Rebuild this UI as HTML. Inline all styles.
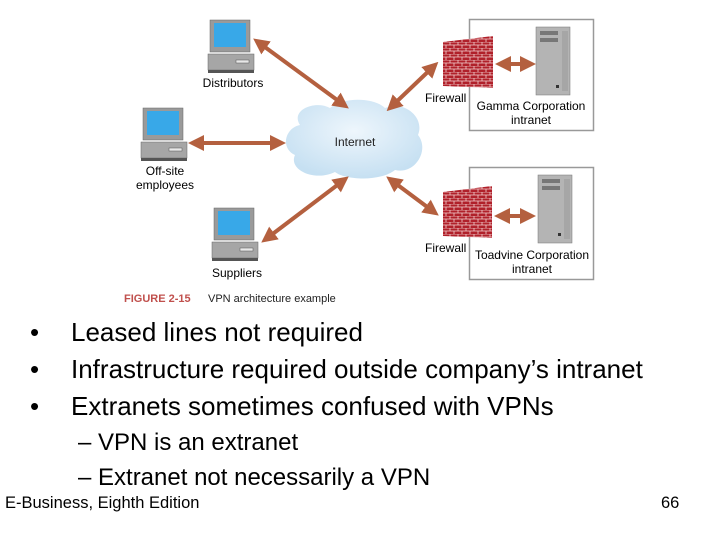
<!DOCTYPE html>
<html><head><style>
body{margin:0;width:720px;height:540px;background:#fff;position:relative;overflow:hidden;font-family:"Liberation Sans",sans-serif}
.t{position:absolute;white-space:nowrap;color:#000}
</style></head><body>
<svg width="720" height="310" style="position:absolute;left:0;top:0" font-family="Liberation Sans, sans-serif">
<defs>
<marker id="a" markerWidth="4" markerHeight="4" refX="2.5" refY="2" orient="auto-start-reverse" markerUnits="strokeWidth"><path d="M0,0 L4,2 L0,4 z" fill="#b4603f"/></marker>
<pattern id="brick" width="8" height="6" patternUnits="userSpaceOnUse"><rect width="8" height="6" fill="#b0202a"/><path d="M0,0H8M0,3H8M2,0V3M6,3V6" stroke="#f3d0d0" stroke-width="0.8"/></pattern>
<radialGradient id="cl" cx="0.5" cy="0.4" r="0.6"><stop offset="0" stop-color="#eef6fc"/><stop offset="1" stop-color="#c6e0f2"/></radialGradient>
<g id="pc">
<rect x="2" y="0" width="40" height="32" fill="#9a9a9a" stroke="#666" stroke-width="0.5"/>
<rect x="6" y="3" width="32" height="24" fill="#38a8e8"/>
<rect x="0" y="34" width="46" height="16" fill="#a6a6a6" stroke="#666" stroke-width="0.5"/>
<rect x="28" y="40" width="13" height="3" fill="#e8e8e8" stroke="#555" stroke-width="0.5"/>
<rect x="0" y="50" width="46" height="3" fill="#555"/>
</g>
<g id="srv">
<rect x="0" y="0" width="34" height="68" fill="#b4b4b4" stroke="#777" stroke-width="0.5"/>
<rect x="4" y="4" width="18" height="4" fill="#777"/><rect x="4" y="11" width="18" height="4" fill="#777"/>
<path d="M27,4V64M29,4V64M31,4V64" stroke="#888" stroke-width="0.6"/>
<rect x="20" y="58" width="3" height="3" fill="#333"/>
</g>
</defs>
<rect x="469.5" y="19.5" width="124" height="111" fill="#fff" stroke="#999" stroke-width="1.5"/>
<rect x="469.5" y="167.5" width="124" height="112" fill="#fff" stroke="#999" stroke-width="1.5"/>
<path d="M300,125 C290,110 315,100 330,108 C345,96 375,98 385,108 C405,100 425,118 418,135 C430,150 415,175 395,170 C380,182 345,180 335,172 C315,182 288,170 295,155 C280,148 285,128 300,125z" fill="url(#cl)"/>
<text x="355" y="146" font-size="12" text-anchor="middle" fill="#222">Internet</text>
<use href="#pc" x="208" y="20"/><use href="#pc" x="141" y="108"/><use href="#pc" x="212" y="208"/>
<text x="233" y="87" font-size="12" text-anchor="middle">Distributors</text>
<text x="165" y="175" font-size="12" text-anchor="middle">Off-site</text>
<text x="165" y="189" font-size="12" text-anchor="middle">employees</text>
<text x="237" y="277" font-size="12" text-anchor="middle">Suppliers</text>
<path d="M443,42 L493,36 L493,88 L443,86z" fill="url(#brick)"/>
<path d="M443,192 L492,186 L492,238 L443,236z" fill="url(#brick)"/>
<text x="425" y="102" font-size="12">Firewall</text>
<text x="425" y="252" font-size="12">Firewall</text>
<use href="#srv" x="536" y="27"/><use href="#srv" x="538" y="175"/>
<text x="531" y="110" font-size="12" text-anchor="middle">Gamma Corporation</text>
<text x="531" y="124" font-size="12" text-anchor="middle">intranet</text>
<text x="532" y="259" font-size="12" text-anchor="middle">Toadvine Corporation</text>
<text x="532" y="273" font-size="12" text-anchor="middle">intranet</text>
<g stroke="#b4603f" stroke-width="4" marker-start="url(#a)" marker-end="url(#a)">
<line x1="258" y1="42" x2="344" y2="105"/>
<line x1="194" y1="143" x2="280" y2="143"/>
<line x1="266" y1="239" x2="344" y2="180"/>
<line x1="391" y1="107" x2="434" y2="66"/>
<line x1="391" y1="180" x2="434" y2="212"/>
<line x1="501" y1="64" x2="530" y2="64"/>
<line x1="500" y1="216" x2="530" y2="216"/>
</g>
<text x="124" y="302" font-size="11" font-weight="bold" fill="#c0504d">FIGURE 2-15</text>
<text x="208" y="302" font-size="11" fill="#222">VPN architecture example</text>
</svg>
<div class="t" style="left:30px;top:317px;font-size:26px;line-height:30px">•</div>
<div class="t" style="left:71px;top:317px;font-size:26px;line-height:30px">Leased lines not required</div>
<div class="t" style="left:30px;top:354px;font-size:26px;line-height:30px">•</div>
<div class="t" style="left:71px;top:354px;font-size:26px;line-height:30px">Infrastructure required outside company’s intranet</div>
<div class="t" style="left:30px;top:391px;font-size:26px;line-height:30px">•</div>
<div class="t" style="left:71px;top:391px;font-size:26px;line-height:30px">Extranets sometimes confused with VPNs</div>
<div class="t" style="left:78px;top:429px;font-size:24px;line-height:27px">– VPN is an extranet</div>
<div class="t" style="left:78px;top:464px;font-size:24px;line-height:27px">– Extranet not necessarily a VPN</div>
<div class="t" style="left:5px;top:494px;font-size:16.5px">E-Business, Eighth Edition</div>
<div class="t" style="left:661px;top:494px;font-size:16.5px">66</div>
</body></html>
